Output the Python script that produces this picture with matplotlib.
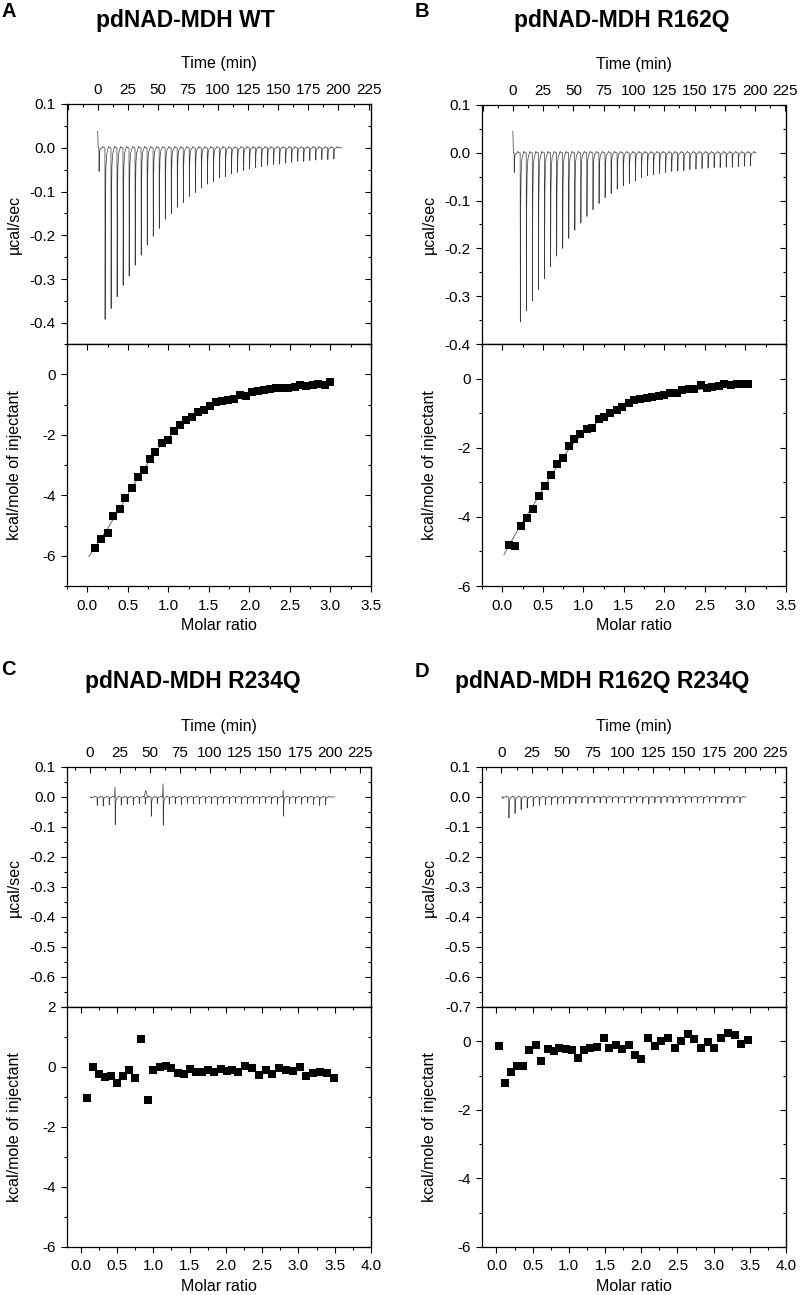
import numpy as np
import matplotlib
matplotlib.use("Agg")
import matplotlib.pyplot as plt
from matplotlib.ticker import MultipleLocator, FuncFormatter

plt.rcParams["font.family"] = ["Liberation Sans", "DejaVu Sans"]
plt.rcParams["axes.unicode_minus"] = False

# injection schedule (min), same for all four runs
inj_time = [1, 6, 11, 16, 21, 26, 31, 36, 41, 46, 51, 56, 61, 66, 71, 76, 81, 86, 91, 96,
            101, 106, 111, 116, 121, 126, 131, 136, 141, 146, 151, 156, 161, 166, 171, 176,
            181, 186, 191, 196]

# peak minimum of each injection (ucal/sec)
wt_peak = [-0.054, -0.392, -0.367, -0.340, -0.314, -0.293, -0.268, -0.245, -0.222, -0.202,
           -0.184, -0.163, -0.150, -0.136, -0.125, -0.111, -0.102, -0.092, -0.083, -0.077,
           -0.069, -0.066, -0.060, -0.056, -0.052, -0.048, -0.045, -0.043, -0.040, -0.038,
           -0.037, -0.035, -0.033, -0.031, -0.031, -0.029, -0.028, -0.027, -0.027, -0.026]
r162q_peak = [-0.041, -0.354, -0.331, -0.310, -0.286, -0.263, -0.238, -0.216, -0.200, -0.179,
              -0.162, -0.147, -0.133, -0.119, -0.106, -0.094, -0.085, -0.076, -0.069, -0.064,
              -0.059, -0.052, -0.048, -0.046, -0.043, -0.041, -0.039, -0.038, -0.037, -0.035,
              -0.034, -0.033, -0.032, -0.031, -0.031, -0.030, -0.030, -0.029, -0.028, -0.027]
r234q_peak = [-0.004, -0.028, -0.030, -0.026, -0.092, -0.027, -0.024, -0.026, -0.022, -0.024,
              -0.064, -0.022, -0.094, -0.024, -0.022, -0.025, -0.021, -0.023, -0.024, -0.020,
              -0.022, -0.025, -0.021, -0.023, -0.020, -0.024, -0.022, -0.021, -0.023, -0.020,
              -0.022, -0.024, -0.064, -0.022, -0.021, -0.024, -0.020, -0.025, -0.028, -0.026]
double_peak = [-0.005, -0.070, -0.055, -0.042, -0.036, -0.031, -0.028, -0.026, -0.025, -0.024,
               -0.022, -0.023, -0.021, -0.020, -0.022, -0.019, -0.020, -0.021, -0.018, -0.020,
               -0.019, -0.021, -0.018, -0.020, -0.024, -0.019, -0.020, -0.018, -0.021, -0.019,
               -0.020, -0.018, -0.019, -0.021, -0.018, -0.020, -0.019, -0.022, -0.019, -0.020]

# upward artefacts in the R234Q trace
r234q_up_t = [20.9, 46.5, 60.9, 160.9]
r234q_up_y = [0.033, 0.022, 0.044, 0.022]
r234q_up_w = [0.3, 1.5, 0.3, 0.3]

# integrated heats
wt_ratio = [0.10, 0.17, 0.25, 0.32, 0.40, 0.47, 0.55, 0.62, 0.70, 0.77, 0.84, 0.92, 0.99, 1.07,
            1.14, 1.22, 1.29, 1.37, 1.44, 1.51, 1.59, 1.66, 1.74, 1.81, 1.89, 1.96, 2.03, 2.11,
            2.18, 2.26, 2.33, 2.41, 2.48, 2.56, 2.63, 2.70, 2.78, 2.85, 2.93, 3.00]
wt_heat = [-5.74, -5.44, -5.24, -4.70, -4.47, -4.08, -3.77, -3.41, -3.17, -2.81, -2.57, -2.26,
           -2.17, -1.88, -1.68, -1.52, -1.41, -1.26, -1.17, -1.06, -0.92, -0.88, -0.86, -0.83,
           -0.70, -0.72, -0.59, -0.56, -0.52, -0.50, -0.44, -0.44, -0.44, -0.42, -0.37, -0.39,
           -0.36, -0.31, -0.34, -0.26]
wt_fit_x = [0.02, 0.10, 0.25, 0.40, 0.55, 0.70, 0.85, 1.00, 1.20, 1.40, 1.60, 1.80, 2.00, 2.30, 2.60, 3.02]
wt_fit_y = [-6.03, -5.70, -5.10, -4.45, -3.75, -3.12, -2.55, -2.08, -1.60, -1.25, -1.00, -0.82,
            -0.68, -0.53, -0.43, -0.32]

r162q_ratio = [0.08, 0.16, 0.23, 0.31, 0.38, 0.45, 0.53, 0.60, 0.67, 0.75, 0.82, 0.89, 0.96, 1.04,
               1.11, 1.19, 1.26, 1.33, 1.41, 1.48, 1.56, 1.63, 1.70, 1.78, 1.85, 1.93, 2.00, 2.07,
               2.15, 2.22, 2.30, 2.37, 2.45, 2.52, 2.59, 2.67, 2.74, 2.82, 2.89, 2.96, 3.03]
r162q_heat = [-4.80, -4.83, -4.25, -4.04, -3.77, -3.40, -3.12, -2.80, -2.46, -2.29, -1.94, -1.76,
              -1.59, -1.47, -1.42, -1.17, -1.10, -1.01, -0.92, -0.82, -0.71, -0.61, -0.58, -0.56,
              -0.53, -0.51, -0.48, -0.42, -0.41, -0.32, -0.29, -0.31, -0.20, -0.27, -0.24, -0.22,
              -0.17, -0.19, -0.17, -0.16, -0.15]
r162q_fit_x = [0.02, 0.10, 0.25, 0.40, 0.55, 0.70, 0.85, 1.00, 1.20, 1.40, 1.60, 1.80, 2.00, 2.30, 2.60, 3.03]
r162q_fit_y = [-5.10, -4.75, -4.15, -3.60, -3.00, -2.45, -1.95, -1.57, -1.22, -0.95, -0.74, -0.58,
               -0.47, -0.35, -0.27, -0.19]

r234q_ratio = [0.09, 0.17, 0.25, 0.34, 0.42, 0.50, 0.58, 0.67, 0.75, 0.83, 0.92, 1.00, 1.09, 1.17,
               1.25, 1.34, 1.42, 1.50, 1.59, 1.67, 1.76, 1.84, 1.93, 2.01, 2.09, 2.17, 2.26, 2.36,
               2.45, 2.55, 2.64, 2.73, 2.83, 2.92, 3.02, 3.11, 3.20, 3.30, 3.39, 3.49]
r234q_heat = [-1.03, 0.00, -0.24, -0.33, -0.31, -0.53, -0.31, -0.09, -0.36, 0.93, -1.11, -0.11,
              -0.01, 0.02, -0.02, -0.20, -0.24, -0.07, -0.17, -0.16, -0.09, -0.16, -0.06, -0.12,
              -0.09, -0.17, 0.04, -0.03, -0.26, -0.11, -0.23, -0.03, -0.09, -0.14, -0.01, -0.29,
              -0.20, -0.18, -0.20, -0.38]

double_ratio = [0.04, 0.12, 0.20, 0.29, 0.37, 0.45, 0.54, 0.62, 0.71, 0.79, 0.87, 0.96, 1.04, 1.12,
                1.21, 1.29, 1.39, 1.48, 1.56, 1.65, 1.74, 1.83, 1.91, 2.00, 2.10, 2.19, 2.27, 2.37,
                2.46, 2.55, 2.64, 2.73, 2.83, 2.92, 3.01, 3.10, 3.20, 3.29, 3.38, 3.48]
double_heat = [-0.15, -1.22, -0.90, -0.71, -0.73, -0.24, -0.11, -0.58, -0.22, -0.27, -0.19, -0.22,
               -0.24, -0.50, -0.25, -0.19, -0.17, 0.10, -0.19, -0.12, -0.22, -0.11, -0.39, -0.51,
               0.10, -0.15, 0.02, 0.09, -0.20, 0.01, 0.20, 0.08, -0.20, -0.03, -0.20, 0.11, 0.24,
               0.19, -0.07, 0.04]

# shape of one injection peak: time after injection, fraction of depth, small overshoot
shape_dt = [0.0, 0.15, 0.4, 0.8, 1.4, 2.3, 3.0, 3.8]
shape_frac = [0.0, 1.0, 0.35, 0.12, 0.04, 0.01, 0.0, 0.0]
shape_bump = [0.0, 0.0, 0.0, 0.0, 0.0, 0.0, 0.003, 0.0]

W, H = 800, 1295
fig = plt.figure(figsize=(W / 100, H / 100), dpi=100)


def fmt1(v, pos):
    s = "%.1f" % v
    return "0.0" if s == "-0.0" else s


def fmt0(v, pos):
    s = "%.0f" % v
    return "0" if s == "-0" else s


def fmt_time(v, pos):
    return "" if v < -1 else fmt0(v, pos)


def box(x0, top, bot):
    return [x0 / W, 1 - bot / H, 304 / W, (bot - top) / H]


TL = dict(length=4, width=0.8)
TLm = dict(length=2.3, width=0.8)


def style_ticks(ax):
    ax.tick_params(which="major", labelsize=11, **TL)
    ax.tick_params(which="minor", **TLm)


def make_panel(x0, top, mid, bot, tlim, plim, rlim, hlim, hide_low=None):
    at = fig.add_axes(box(x0, top, mid))
    al = fig.add_axes(box(x0, mid, bot))
    for a in (at, al):
        for s in a.spines.values():
            s.set_linewidth(0.9)

    # thermogram axes
    at.set_xlim(tlim)
    at.set_ylim(plim)
    at.xaxis.set_ticks_position("top")
    at.xaxis.set_label_position("top")
    at.xaxis.set_major_locator(MultipleLocator(25))
    at.xaxis.set_minor_locator(MultipleLocator(12.5))
    at.xaxis.set_major_formatter(FuncFormatter(fmt_time))
    at.yaxis.set_major_locator(MultipleLocator(0.1))
    at.yaxis.set_minor_locator(MultipleLocator(0.05))
    if hide_low is None:
        at.yaxis.set_major_formatter(FuncFormatter(fmt1))
    else:
        at.yaxis.set_major_formatter(FuncFormatter(lambda v, p: "" if v < hide_low else fmt1(v, p)))
    at.tick_params(axis="x", which="both", direction="in", top=True, bottom=False,
                   labeltop=True, labelbottom=False, pad=5)
    at.tick_params(axis="y", which="both", direction="out", left=True, right=False, pad=4)
    style_ticks(at)
    sy = at.secondary_yaxis("right")
    sy.yaxis.set_major_locator(MultipleLocator(0.1))
    sy.yaxis.set_minor_locator(MultipleLocator(0.05))
    sy.tick_params(which="both", direction="in", labelright=False)
    sy.tick_params(which="major", **TL)
    sy.tick_params(which="minor", **TLm)
    at.set_xlabel("Time (min)", fontsize=11.5)
    at.xaxis.set_label_coords(0.5, 1.149)
    at.set_ylabel("µcal/sec", fontsize=11.5)
    at.yaxis.set_label_coords(-0.149, 0.5)

    # binding isotherm axes
    al.set_xlim(rlim)
    al.set_ylim(hlim)
    al.xaxis.set_major_locator(MultipleLocator(0.5))
    al.xaxis.set_minor_locator(MultipleLocator(0.25))
    al.xaxis.set_major_formatter(FuncFormatter(fmt1))
    al.yaxis.set_major_locator(MultipleLocator(2))
    al.yaxis.set_minor_locator(MultipleLocator(1))
    al.yaxis.set_major_formatter(FuncFormatter(fmt0))
    al.tick_params(axis="x", which="both", direction="out", top=False, pad=5)
    al.tick_params(axis="y", which="both", direction="out", right=False, pad=4)
    style_ticks(al)
    sx = al.secondary_xaxis("top")
    sx.xaxis.set_major_locator(MultipleLocator(0.5))
    sx.xaxis.set_minor_locator(MultipleLocator(0.25))
    sx.tick_params(which="both", direction="in", labeltop=False)
    sx.tick_params(which="major", **TL)
    sx.tick_params(which="minor", **TLm)
    sy2 = al.secondary_yaxis("right")
    sy2.yaxis.set_major_locator(MultipleLocator(2))
    sy2.yaxis.set_minor_locator(MultipleLocator(1))
    sy2.tick_params(which="both", direction="in", labelright=False)
    sy2.tick_params(which="major", **TL)
    sy2.tick_params(which="minor", **TLm)
    al.set_xlabel("Molar ratio", fontsize=11.5)
    al.xaxis.set_label_coords(0.5, -0.132)
    al.set_ylabel("kcal/mole of injectant", fontsize=11.5)
    al.yaxis.set_label_coords(-0.149, 0.5)
    return at, al


def draw_trace(ax, depths, t_end, y0):
    t = [0.0, 0.4]
    y = [y0, 0.0]
    for ti, di in zip(inj_time, depths):
        for dt, f, b in zip(shape_dt, shape_frac, shape_bump):
            t.append(ti + dt)
            y.append(di * f + b)
    t.append(t_end)
    y.append(0.0)
    ax.plot(t, y, color="#3a3a3a", lw=0.5)


def draw_heats(ax, ratio, heat, fx=None, fy=None):
    if fx is not None:
        ax.plot(fx, fy, color="#555555", lw=0.6, zorder=2)
    ax.plot(ratio, heat, "s", color="black", ms=5.2, mew=0, zorder=3)


# A
atA, alA = make_panel(67, 104, 344, 586, (-25.5, 227), (-0.448, 0.1), (-0.25, 3.5), (-7, 1))
draw_trace(atA, wt_peak, 203, 0.038)
draw_heats(alA, wt_ratio, wt_heat, wt_fit_x, wt_fit_y)

# B
atB, alB = make_panel(482, 105, 344, 586, (-25.5, 225.5), (-0.4, 0.1), (-0.25, 3.5), (-6, 1))
draw_trace(atB, r162q_peak, 201, 0.045)
draw_heats(alB, r162q_ratio, r162q_heat, r162q_fit_x, r162q_fit_y)

# C
atC, alC = make_panel(67, 767, 1007, 1247, (-19, 234), (-0.7, 0.1), (-0.19, 4.0), (-6, 2),
                      hide_low=-0.65)
draw_trace(atC, r234q_peak, 204, 0.0)
for t0, h, w in zip(r234q_up_t, r234q_up_y, r234q_up_w):
    atC.plot([t0 - w, t0, t0 + w], [0, h, 0], color="#3a3a3a", lw=0.5)
draw_heats(alC, r234q_ratio, r234q_heat)

# D
atD, alD = make_panel(482, 767, 1007, 1247, (-16, 234), (-0.7, 0.1), (-0.2, 4.0), (-6, 1))
draw_trace(atD, double_peak, 201, 0.0)
draw_heats(alD, double_ratio, double_heat)

# titles and panel letters
for x, y, s in [(185, 27, "pdNAD-MDH WT"), (622, 27, "pdNAD-MDH R162Q"),
                (193, 688, "pdNAD-MDH R234Q"), (602, 688, "pdNAD-MDH R162Q R234Q")]:
    fig.text(x / W, 1 - y / H, s, fontsize=16.5, fontweight="bold", ha="center", va="baseline")
for x, y, s in [(1, 17, "A"), (415, 17, "B"), (1, 675, "C"), (415, 677, "D")]:
    fig.text(x / W, 1 - y / H, s, fontsize=14.5, fontweight="bold", ha="left", va="baseline")

fig.savefig("out.png", dpi=100)
